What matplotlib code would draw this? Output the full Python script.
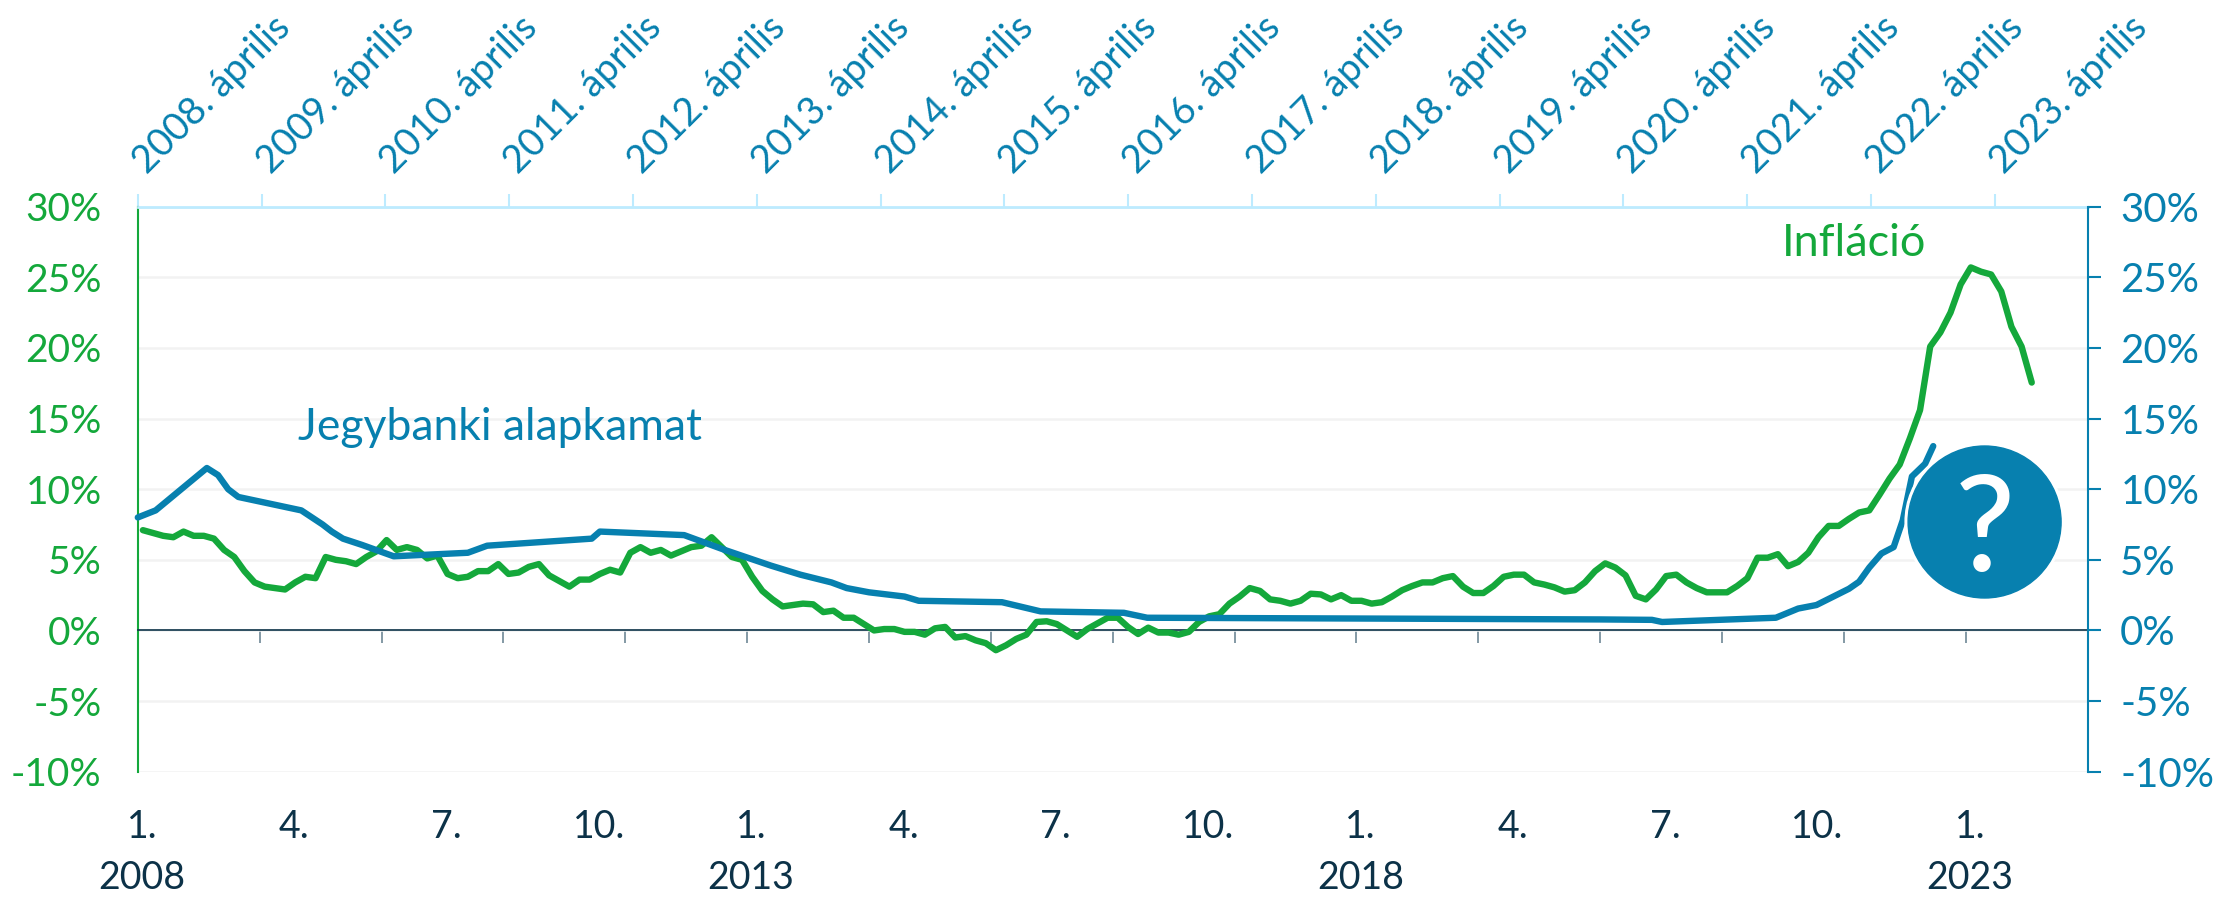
import matplotlib
matplotlib.use("Agg")
import matplotlib.pyplot as plt
from matplotlib.patches import Ellipse
from matplotlib.transforms import ScaledTranslation

# inflation, monthly from 2008 jan
inflation = [
  7.1, 6.9, 6.7, 6.6, 7.0, 6.7, 6.7, 6.5, 5.7, 5.2, 4.2, 3.4,
  3.1, 3.0, 2.9, 3.4, 3.8, 3.7, 5.2, 5.0, 4.9, 4.7, 5.2, 5.6,
  6.4, 5.7, 5.9, 5.7, 5.1, 5.3, 4.0, 3.7, 3.8, 4.2, 4.2, 4.7,
  4.0, 4.1, 4.5, 4.7, 3.9, 3.5, 3.1, 3.6, 3.6, 4.0, 4.3, 4.1,
  5.5, 5.9, 5.5, 5.7, 5.3, 5.6, 5.9, 6.0, 6.6, 5.9, 5.2, 5.0,
  3.8, 2.8, 2.2, 1.7, 1.8, 1.9, 1.85, 1.3, 1.4, 0.9, 0.9, 0.45,
  0.0, 0.1, 0.1, -0.1, -0.1, -0.3, 0.15, 0.25, -0.5, -0.4, -0.7, -0.9,
  -1.4, -1.05, -0.6, -0.3, 0.6, 0.65, 0.45, 0.0, -0.45, 0.1, 0.5, 0.9,
  0.9, 0.25, -0.25, 0.2, -0.15, -0.15, -0.3, -0.1, 0.6, 1.0, 1.15, 1.9,
  2.4, 3.0, 2.8, 2.2, 2.1, 1.9, 2.1, 2.6, 2.55, 2.2, 2.5, 2.1,
  2.1, 1.9, 2.0, 2.4, 2.85, 3.15, 3.4, 3.4, 3.7, 3.85, 3.1, 2.65,
  2.65, 3.15, 3.8, 3.95, 3.95, 3.4, 3.25, 3.05, 2.75, 2.85, 3.4, 4.2,
  4.75, 4.45, 3.9, 2.45, 2.2, 2.9, 3.85, 3.95, 3.4, 3.0, 2.7, 2.7,
  2.7, 3.15, 3.7, 5.15, 5.15, 5.4, 4.55, 4.85, 5.5, 6.6, 7.4, 7.4,
  7.9, 8.35, 8.5, 9.6, 10.75, 11.75, 13.6, 15.6, 20.1, 21.1, 22.5, 24.5,
  25.7, 25.4, 25.2, 24.0, 21.5, 20.1, 17.55,
]

# base rate only has the breakpoints, straight lines between them
rate_months = [
  0, 1.76, 6.8, 7.9, 8.9, 9.9, 16.1, 18.2, 19.1, 20.2, 22.1, 25.2, 32.5, 34.4,
  44.7, 45.5, 53.8, 57.8, 62.3, 65.24, 68.3, 69.8, 72, 75.5, 76.9, 85.1, 88.9,
  97.1, 99.4, 144, 149.1, 150.1, 161.3, 163.5, 165.3, 168.5, 169.5, 170.5,
  171.7, 172.9, 173.8, 174.7, 176, 176.8,
]
rate_values = [
  8.0, 8.5, 11.5, 11.0, 10.0, 9.45, 8.5, 7.5, 7.0, 6.5, 6.05, 5.25, 5.5, 6.0,
  6.5, 7.0, 6.75, 5.7, 4.6, 3.95, 3.4, 3.0, 2.7, 2.4, 2.1, 2.0, 1.35,
  1.25, 0.9, 0.78, 0.75, 0.6, 0.9, 1.55, 1.8, 2.95, 3.45, 4.45,
  5.45, 5.9, 7.8, 10.9, 11.8, 13.05,
]

top_labels = [f"{y}. április" for y in range(2008, 2024)]
month_labels = ["1.", "4.", "7.", "10."] * 3 + ["1."]
year_labels = {0: "2008", 4: "2013", 8: "2018", 12: "2023"}
y_ticks = [-10, -5, 0, 5, 10, 15, 20, 25, 30]

GREEN = "#14A83B"
BLUE = "#0780AF"
NAVY = "#0C3248"
W, H = 2238, 898

plt.rcParams["font.family"] = ["Lato", "DejaVu Sans"]

fig = plt.figure(figsize=(W / 100, H / 100), dpi=100)
ax = fig.add_axes([137.8 / W, 1 - 771.7 / H, (2087.6 - 137.8) / W, (771.7 - 206.7) / H])
ax.set_xlim(0, 192)
ax.set_ylim(-10, 30)

ax.grid(axis="y", color="#F2F2F2", linewidth=1.8)
ax.set_axisbelow(True)

ax.plot([i + 0.5 for i in range(len(inflation))], inflation, color=GREEN, linewidth=4.6,
        solid_joinstyle="round", solid_capstyle="round", zorder=3)
ax.plot(rate_months, rate_values, color=BLUE, linewidth=4.6,
        solid_joinstyle="round", solid_capstyle="round", zorder=4, clip_on=False)

# left y axis
ax.set_yticks(y_ticks)
ax.set_yticklabels([f"{v}%" for v in y_ticks], fontsize=28, color=GREEN)
ax.tick_params(axis="y", length=0, pad=26)
ax.spines["left"].set_color(GREEN)
ax.spines["left"].set_linewidth(1.5)
ax.spines["right"].set_visible(False)

# right y axis
ax2 = ax.twinx()
ax2.set_ylim(-10, 30)
ax2.set_yticks(y_ticks)
ax2.set_yticklabels([f"{v}%" for v in y_ticks], fontsize=29, color=BLUE)
ax2.tick_params(axis="y", length=9.5, width=1.5, color=BLUE, pad=14)
for name in ["left", "top", "bottom"]:
  ax2.spines[name].set_visible(False)
ax2.spines["right"].set_color(BLUE)
ax2.spines["right"].set_linewidth(1.5)

# bottom axis sits on the zero line
ax.spines["bottom"].set_position(("data", 0))
ax.spines["bottom"].set_color(NAVY)
ax.spines["bottom"].set_linewidth(1.2)
ax.set_xticks([12 * i for i in range(17)])
ax.set_xticklabels([])
ax.tick_params(axis="x", length=9.5, width=1.2, color="#6E8796")

# month and year labels below the plot
trans = ax.get_xaxis_transform()
for i, label in enumerate(month_labels):
  pos = 15 * i + 0.4
  ax.text(pos, -0.098, label, transform=trans, ha="center", va="center", fontsize=27, color=NAVY)
  if i in year_labels:
    ax.text(pos, -0.188, year_labels[i], transform=trans, ha="center", va="center", fontsize=27, color=NAVY)

# top axis, spacing is a bit wider than the bottom one
ax.spines["top"].set_color("#BDEBFF")
ax.spines["top"].set_linewidth(2)
top = ax.secondary_xaxis("top")
top.set_xticks([12.19 * i for i in range(16)])
top.set_xticklabels(top_labels, rotation=45, ha="left", va="bottom", rotation_mode="anchor",
                    fontsize=27.5, color=BLUE)
top.tick_params(axis="x", length=9.5, width=1.5, color="#BDEBFF", pad=10)
top.spines["top"].set_visible(False)
# labels start a bit right of their ticks
shift = ScaledTranslation(14 / 100, 0, fig.dpi_scale_trans)
for t in top.get_xticklabels():
  t.set_transform(t.get_transform() + shift)

ax.text(298 / W, 1 - 428 / H, "Jegybanki alapkamat", transform=fig.transFigure, ha="left", va="center",
        fontsize=32, color=BLUE)
ax.text(1782 / W, 1 - 244 / H, "Infláció", transform=fig.transFigure, ha="left", va="center",
        fontsize=32.5, color=GREEN)

# question mark badge, the white ring cuts into the end of the blue line
cx, cy = 1984.6 / W, 1 - 522 / H
ax2.add_patch(Ellipse((cx, cy), 159 / W, 158 / H, transform=fig.transFigure, color="white", zorder=5, clip_on=False))
ax2.add_patch(Ellipse((cx, cy), 153 / W, 152 / H, transform=fig.transFigure, color=BLUE, zorder=6, clip_on=False))
ax2.text(cx, cy, "?", transform=fig.transFigure, ha="center", va="center_baseline", fontsize=96,
         fontweight="medium", color="white", zorder=7)

fig.savefig("out.png", dpi=100)
